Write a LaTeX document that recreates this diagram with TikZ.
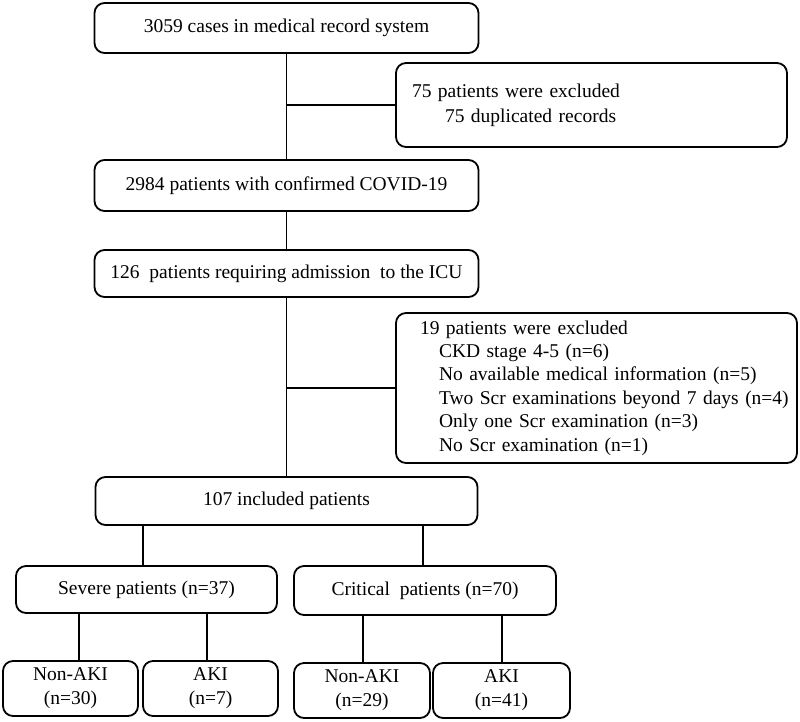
\documentclass[tikz,border=0pt]{standalone}
\usepackage{fontspec}
\setmainfont{Liberation Serif}
\usetikzlibrary{positioning}
\tikzstyle{chart} = [x = 1pt, y = -1pt, every node/.style={font=\fontsize{19.5pt}{24pt}\selectfont}]
\tikzstyle{boxStyle} = [draw, rounded corners = 10pt, line width = 1.8pt, align = center, inner sep = 2pt]
\tikzstyle{excludedStyle} = [boxStyle, align = left, inner xsep = 4pt]
\tikzstyle{linkLine} = [line width = 1.8pt]
\newcommand{\flowBox}[6]{\node [boxStyle, minimum width = #4pt, minimum height = #5pt] (#1) at (#2, #3) {#6};}
\newcommand{\linkDown}[3]{\draw [linkLine] ([xshift = #3pt]#2.north) -- ([xshift = #3pt]#2.north |- #1.south);}

\begin{document}
\begin{tikzpicture}[chart]
              \useasboundingbox (0,0) rectangle (800,721);
              \flowBox{records}{286.5}{28}{384}{50}{3059 cases in medical record system}
              \flowBox{confirmed}{286.5}{185.5}{384}{51}{2984 patients with confirmed COVID-19}
              \flowBox{icu}{286.5}{273.5}{384}{47}{126~ patients requiring admission~ to the ICU}
              \flowBox{included}{286.5}{501}{382}{48}{107 included patients}
              \flowBox{severe}{146.5}{589.5}{261}{47}{Severe patients (n=37)}
              \flowBox{critical}{425}{590.5}{262}{49}{Critical~ patients (n=70)}
              \flowBox{nonAkiSevere}{70.5}{688.5}{135}{55}{Non-AKI\\(n=30)}
              \flowBox{akiSevere}{210.5}{688.5}{135}{55}{AKI\\(n=7)}
              \flowBox{nonAkiCritical}{362}{690.5}{136}{55}{Non-AKI\\(n=29)}
              \flowBox{akiCritical}{501.5}{690.5}{137}{55}{AKI\\(n=41)}

              \node [excludedStyle, minimum width = 391pt, minimum height = 84pt, text width = 383pt,
                font = \fontsize{19.5pt}{25pt}\selectfont] (excludedFirst) at (591.5, 105)
                {\hspace*{12pt}75 patients were excluded\\\hspace*{45pt}75 duplicated records};
              \node [excludedStyle, minimum width = 401pt, minimum height = 150pt, text width = 393pt,
                font = \fontsize{19.5pt}{23.4pt}\selectfont] (excludedSecond) at (596.5, 388)
                {\hspace*{20pt}19 patients were excluded\\
                 \hspace*{39pt}CKD stage 4-5 (n=6)\\
                 \hspace*{39pt}No available medical information (n=5)\\
                 \hspace*{39pt}Two Scr examinations beyond 7 days (n=4)\\
                 \hspace*{39pt}Only one Scr examination (n=3)\\
                 \hspace*{39pt}No Scr examination (n=1)};

              \draw [linkLine] (records) -- (confirmed);
              \draw [linkLine] (records.south |- excludedFirst.west) -- (excludedFirst.west);
              \draw [linkLine] (confirmed) -- (icu);
              \draw [linkLine] (icu) -- (included);
              \draw [linkLine] (icu.south |- excludedSecond.west) -- (excludedSecond.west);
              \linkDown{included}{severe}{-3.5}
              \linkDown{included}{critical}{-2}
              \linkDown{severe}{nonAkiSevere}{8.5}
              \linkDown{severe}{akiSevere}{-3.5}
              \linkDown{critical}{nonAkiCritical}{1}
              \linkDown{critical}{akiCritical}{0.5}
            \end{tikzpicture}
\end{document}
